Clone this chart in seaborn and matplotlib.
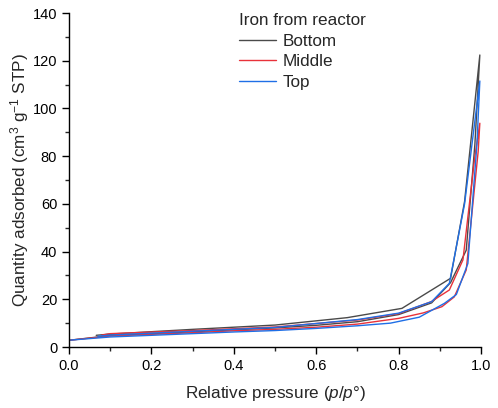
import numpy as np
import pandas as pd
import matplotlib
matplotlib.use("Agg")
import matplotlib.pyplot as plt
from matplotlib.ticker import MultipleLocator
import seaborn as sns

# Bottom
bottom_ads_p = [0.004, 0.10, 0.20, 0.30, 0.40, 0.50, 0.60, 0.70, 0.80, 0.88, 0.926, 0.964, 0.985, 0.997]
bottom_ads_v = [2.9, 4.8, 5.6, 6.4, 7.2, 8.0, 9.1, 10.6, 13.6, 18.5, 27.0, 40.6, 85.0, 122.4]
bottom_des_p = [0.997, 0.96, 0.926, 0.808, 0.675, 0.50, 0.30, 0.097, 0.066]
bottom_des_v = [122.4, 61.0, 28.8, 16.2, 12.3, 9.2, 7.4, 5.4, 4.9]
# Middle
middle_ads_p = [0.004, 0.10, 0.20, 0.30, 0.40, 0.50, 0.60, 0.70, 0.80, 0.86, 0.905, 0.935, 0.964, 0.993, 0.997]
middle_ads_v = [2.9, 4.6, 5.3, 6.0, 6.8, 7.4, 8.3, 9.6, 12.0, 14.3, 16.9, 21.0, 32.3, 82.0, 93.8]
middle_des_p = [0.997, 0.985, 0.956, 0.923, 0.879, 0.80, 0.70, 0.50, 0.30, 0.10, 0.08]
middle_des_v = [93.8, 80.0, 36.5, 23.9, 19.0, 14.0, 11.3, 8.4, 6.9, 5.6, 5.0]
# Top
top_ads_p = [0.004, 0.10, 0.20, 0.30, 0.40, 0.50, 0.60, 0.70, 0.78, 0.85, 0.911, 0.94, 0.968, 0.99, 0.997]
top_ads_v = [2.9, 4.2, 4.9, 5.6, 6.3, 6.9, 7.8, 8.9, 10.0, 12.5, 18.3, 22.0, 35.0, 85.0, 111.5]
top_des_p = [0.997, 0.96, 0.923, 0.88, 0.80, 0.70, 0.50, 0.30, 0.10, 0.07]
top_des_v = [111.5, 60.0, 26.7, 19.0, 14.2, 11.5, 8.2, 6.6, 5.0, 4.5]

series = ["Bottom", "Middle", "Top"]
colors = ["#4a4a4a", "#e8323a", "#1f6fe6"]

frames = []
for name, ap, av, dp, dv in [
    ("Bottom", bottom_ads_p, bottom_ads_v, bottom_des_p, bottom_des_v),
    ("Middle", middle_ads_p, middle_ads_v, middle_des_p, middle_des_v),
    ("Top", top_ads_p, top_ads_v, top_des_p, top_des_v),
]:
    p = list(ap) + list(dp)
    v = list(av) + list(dv)
    frames.append(pd.DataFrame({"p": p, "v": v, "Iron from reactor": name, "order": range(len(p))}))
df = pd.concat(frames, ignore_index=True)

sns.set_style("ticks")
plt.rcParams["font.family"] = ["Liberation Sans", "DejaVu Sans"]
plt.rcParams["mathtext.fontset"] = "custom"
plt.rcParams["mathtext.rm"] = "Liberation Sans"
plt.rcParams["mathtext.it"] = "Liberation Sans:italic"

fig = plt.figure(figsize=(4.98, 4.08), dpi=100)
ax = fig.add_axes([0.1386, 0.1495, 0.8274, 0.8186])

sns.lineplot(data=df, x="p", y="v", hue="Iron from reactor", hue_order=series,
             palette=colors, sort=False, estimator=None, linewidth=1.0, ax=ax)

ax.set_xlim(0, 1.0)
ax.set_ylim(0, 140)
ax.xaxis.set_major_locator(MultipleLocator(0.2))
ax.xaxis.set_minor_locator(MultipleLocator(0.1))
ax.yaxis.set_major_locator(MultipleLocator(20))
ax.yaxis.set_minor_locator(MultipleLocator(10))
ax.set_xticklabels([f"{t:.1f}" for t in ax.get_xticks()])
ax.tick_params(which="major", direction="out", length=5, width=1, labelsize=10.5, colors="black")
ax.tick_params(which="minor", direction="out", length=3, width=1)
for s in ["top", "right"]:
    ax.spines[s].set_visible(False)
for s in ["left", "bottom"]:
    ax.spines[s].set_linewidth(1)
    ax.spines[s].set_color("black")

ax.set_xlabel(r"Relative pressure ($p$/$p$°)", fontsize=12.3, labelpad=8)
ax.set_ylabel(r"Quantity adsorbed (cm$^3$ g$^{-1}$ STP)", fontsize=12.3, labelpad=1)

leg = ax.legend(title="Iron from reactor", frameon=False, loc="upper left",
                bbox_to_anchor=(0.395, 1.02), fontsize=12.3, title_fontsize=12.3,
                handlelength=2.2, handletextpad=0.35, labelspacing=0.32,
                alignment="left", borderaxespad=0.0)
for line in leg.get_lines():
    line.set_linewidth(1.0)

fig.savefig("out.png", dpi=100)
